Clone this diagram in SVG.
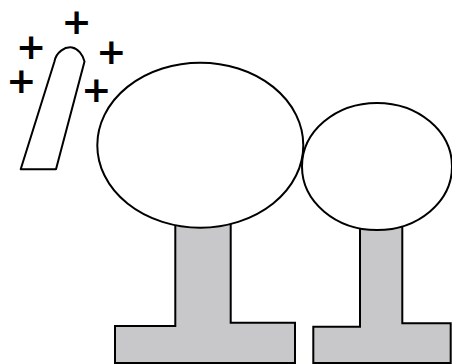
<svg xmlns="http://www.w3.org/2000/svg" width="452" height="364" viewBox="0 0 452 364">
<style>
.stand{fill:#c8c8ca;stroke:#000;stroke-width:2;stroke-linejoin:miter}
.sphere{fill:#fff;stroke:#000;stroke-width:2}
.rod{fill:#fff;stroke:#000;stroke-width:2;stroke-linejoin:round}
.plus{font-family:"DejaVu Sans",sans-serif;font-weight:bold;font-size:36px;fill:#000;text-anchor:middle}
</style>
<rect width="452" height="364" fill="#fff"/>
<g id="stand1"><polygon class="stand" points="175.3,215 175.3,326 115,326 115,363 295,363 295,322.7 230.7,322.7 230.7,215"/></g>
<g id="stand2"><polygon class="stand" points="360,220 360,326.7 313.3,326.7 313.3,363 450.7,363 450.7,323.3 402.3,323.3 402.3,220"/></g>
<g id="sphere1"><ellipse class="sphere" cx="200.3" cy="145.2" rx="103" ry="82.5"/></g>
<g id="sphere2"><ellipse class="sphere" cx="377" cy="166.5" rx="75" ry="63.5"/></g>
<g id="rod"><path class="rod" d="M20.7 169.3 L54.3 62 C56 52 65 46.5 72 47.5 C78 48.5 83 55 84.5 61.5 L56 169.3 Z"/></g>
<g id="charges">
<text class="plus" x="76.7" y="34.3">+</text>
<text class="plus" x="31" y="59.3">+</text>
<text class="plus" x="111.3" y="64">+</text>
<text class="plus" x="21.3" y="93">+</text>
<text class="plus" x="96.3" y="102.3">+</text>
</g>
</svg>
